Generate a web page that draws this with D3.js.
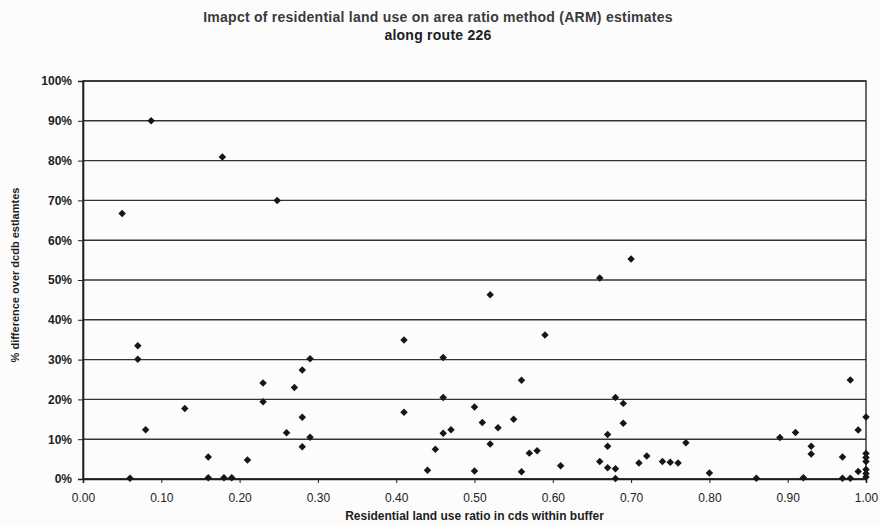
<!DOCTYPE html>
<html>
<head>
<meta charset="utf-8">
<script src="https://cdn.jsdelivr.net/npm/d3@7"></script>
<style>
  body { margin: 0; background: #fcfcfc; }
  svg { display: block; font-family: "Liberation Sans", Arial, sans-serif; }
</style>
</head>
<body>
<div id="chart"></div>
<script>
// residential land use ratio (x) and % difference (y, in %)
const ratio = [
  0.05, 0.087, 0.178, 0.248, 0.07, 0.07, 0.08, 0.06, 0.13, 0.16,
  0.16, 0.18, 0.19, 0.21, 0.23, 0.23, 0.27, 0.26, 0.28, 0.29,
  0.28, 0.29, 0.28, 0.41, 0.41, 0.46, 0.46, 0.46, 0.47, 0.45,
  0.44, 0.52, 0.59, 0.66, 0.70, 0.56, 0.50, 0.68, 0.69, 0.69,
  0.51, 0.53, 0.55, 0.67, 0.52, 0.57, 0.58, 0.67, 0.66, 0.67,
  0.68, 0.68, 0.61, 0.50, 0.56, 0.71, 0.72, 0.74, 0.75, 0.76,
  0.77, 0.80, 0.86, 0.89, 0.91, 0.92, 0.93, 0.93, 0.97, 0.97,
  0.98, 0.98, 0.99, 0.99, 1.00, 1.00, 1.00, 1.00, 1.00, 1.00,
  1.00,
];
const pctDiff = [
  66.7, 90.0, 80.9, 70.0, 33.5, 30.1, 12.4, 0.2, 17.7, 5.5,
  0.3, 0.3, 0.3, 4.8, 24.1, 19.4, 23.0, 11.6, 27.4, 30.2,
  15.5, 10.5, 8.1, 34.9, 16.8, 30.5, 20.5, 11.5, 12.4, 7.5,
  2.2, 46.3, 36.2, 50.5, 55.3, 24.8, 18.1, 20.5, 19.0, 14.0,
  14.2, 12.9, 15.0, 11.2, 8.8, 6.5, 7.1, 8.2, 4.4, 2.8,
  2.6, 0.1, 3.3, 2.0, 1.8, 4.0, 5.8, 4.4, 4.2, 4.0,
  9.1, 1.5, 0.2, 10.4, 11.7, 0.3, 8.2, 6.3, 5.5, 0.2,
  0.2, 24.9, 12.3, 1.9, 15.6, 6.4, 5.4, 4.4, 2.4, 1.4,
  0.5,
];
const xTicks = [0, 0.1, 0.2, 0.3, 0.4, 0.5, 0.6, 0.7, 0.8, 0.9, 1.0];
const yTicks = [0, 10, 20, 30, 40, 50, 60, 70, 80, 90, 100];

const titleLines = [
  'Imapct of residential land use on area ratio method (ARM) estimates',
  'along route 226',
];
const xTitle = 'Residential land use ratio in cds within buffer';
const yTitle = '% difference over dcdb estlamtes';

const data = ratio.map((r, i) => ({ x: r, y: pctDiff[i] }));

const W = 880;
const H = 526;
const margin = { top: 81, right: 14, bottom: 47, left: 83 };
const width = W - margin.left - margin.right;
const height = H - margin.top - margin.bottom;
const ink = '#1e1e1e';
const font = '"Liberation Sans", Arial, sans-serif';

const svg = d3.select('#chart').append('svg')
  .attr('width', W)
  .attr('height', H);

svg.append('rect')
  .attr('width', W)
  .attr('height', H)
  .attr('fill', '#fcfcfc');

// title
svg.append('g')
  .selectAll('text')
  .data(titleLines)
  .join('text')
  .attr('x', 438)
  .attr('y', (d, i) => 22 + i * 18)
  .attr('text-anchor', 'middle')
  .attr('font-size', 14)
  .attr('letter-spacing', 0.25)
  .attr('font-weight', 'bold')
  .attr('fill', (d, i) => (i === 0 ? '#3a3a3a' : '#202020'))
  .text((d) => d);

const g = svg.append('g')
  .attr('transform', `translate(${margin.left}, ${margin.top})`);

const x = d3.scaleLinear().domain([0, 1]).range([0, width]);
const y = d3.scaleLinear().domain([0, 100]).range([height, 0]);

// gridlines
g.append('g')
  .selectAll('line')
  .data(yTicks)
  .join('line')
  .attr('x1', 0)
  .attr('x2', width)
  .attr('y1', (d) => y(d))
  .attr('y2', (d) => y(d))
  .attr('stroke', '#353535')
  .attr('stroke-width', 1.4);

// frame
g.append('rect')
  .attr('width', width)
  .attr('height', height)
  .attr('fill', 'none')
  .attr('stroke', '#2a2a2a')
  .attr('stroke-width', 1.4);

// y axis
const yAxis = g.append('g')
  .call(d3.axisLeft(y)
    .tickValues(yTicks)
    .tickSize(5)
    .tickPadding(6)
    .tickFormat((d) => `${d}%`));
yAxis.select('.domain').attr('stroke', ink).attr('stroke-width', 1.6);
yAxis.selectAll('line').attr('stroke', ink);
yAxis.selectAll('text')
  .attr('font-size', 12)
  .attr('font-weight', 'bold')
  .attr('font-family', font)
  .attr('fill', ink);

// x axis
const xAxis = g.append('g')
  .attr('transform', `translate(0, ${height})`)
  .call(d3.axisBottom(x)
    .tickValues(xTicks)
    .tickSize(4)
    .tickPadding(10)
    .tickFormat(d3.format('.2f')));
xAxis.select('.domain').attr('stroke', ink).attr('stroke-width', 1.6);
xAxis.selectAll('line').attr('stroke', ink);
xAxis.selectAll('text')
  .attr('font-size', 12)
  .attr('font-family', font)
  .attr('fill', '#222');

// axis titles
svg.append('text')
  .attr('x', margin.left + width / 2)
  .attr('y', 520)
  .attr('text-anchor', 'middle')
  .attr('font-size', 12)
  .attr('font-weight', 'bold')
  .attr('fill', ink)
  .text(xTitle);

svg.append('text')
  .attr('transform', `translate(19, ${margin.top + height / 2 - 5}) rotate(-90)`)
  .attr('text-anchor', 'middle')
  .attr('font-size', 11)
  .attr('font-weight', 'bold')
  .attr('fill', ink)
  .text(yTitle);

// points (square diamonds)
const marker = d3.symbol().type(d3.symbolSquare).size(28);

g.append('g')
  .selectAll('path')
  .data(data)
  .join('path')
  .attr('d', marker)
  .attr('transform', (d) => `translate(${x(d.x)}, ${y(d.y)}) rotate(45)`)
  .attr('fill', '#161616');
</script>
</body>
</html>
